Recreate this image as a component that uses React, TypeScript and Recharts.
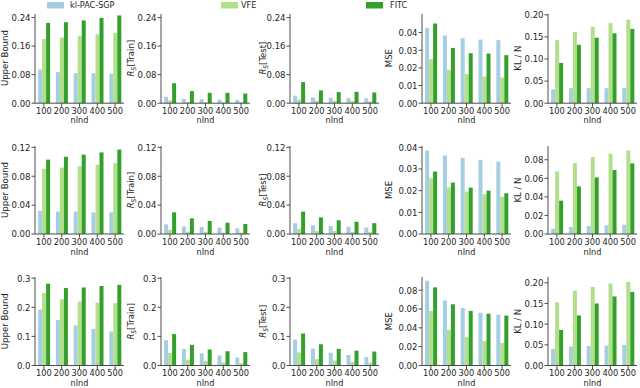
import React from 'react';
import { BarChart, Bar, XAxis, YAxis } from 'recharts';

// ---------- data ----------
const nInd = ['100', '200', '300', '400', '500'];
const seriesNames = ['kl-PAC-SGP', 'VFE', 'FITC'];

// Row 1
const ub1Pac = [0.094, 0.087, 0.084, 0.084, 0.083];
const ub1Vfe = [0.18, 0.184, 0.188, 0.193, 0.197];
const ub1Fitc = [0.225, 0.227, 0.232, 0.239, 0.246];
const rsTrain1Pac = [0.018, 0.012, 0.011, 0.01, 0.009];
const rsTrain1Vfe = [0.008, 0.003, 0.002, 0.002, 0.002];
const rsTrain1Fitc = [0.056, 0.034, 0.029, 0.029, 0.027];
const rsTest1Pac = [0.021, 0.016, 0.015, 0.014, 0.014];
const rsTest1Vfe = [0.01, 0.007, 0.007, 0.006, 0.005];
const rsTest1Fitc = [0.059, 0.036, 0.031, 0.032, 0.03];
const mse1Pac = [0.0425, 0.0383, 0.0368, 0.036, 0.0357];
const mse1Vfe = [0.0249, 0.0189, 0.0164, 0.0151, 0.0145];
const mse1Fitc = [0.0451, 0.0313, 0.0283, 0.0281, 0.0272];
const kl1Pac = [0.031, 0.034, 0.034, 0.034, 0.034];
const kl1Vfe = [0.143, 0.161, 0.173, 0.181, 0.189];
const kl1Fitc = [0.091, 0.132, 0.148, 0.158, 0.168];

// Row 2
const ub2Pac = [0.032, 0.031, 0.031, 0.03, 0.03];
const ub2Vfe = [0.0905, 0.092, 0.094, 0.096, 0.098];
const ub2Fitc = [0.103, 0.107, 0.11, 0.113, 0.117];
const rsTrain2Pac = [0.0134, 0.0106, 0.0097, 0.0088, 0.0078];
const rsTrain2Vfe = [0.006, 0.003, 0.003, 0.002, 0.002];
const rsTrain2Fitc = [0.03, 0.0217, 0.018, 0.0157, 0.0138];
const rsTest2Pac = [0.015, 0.012, 0.011, 0.01, 0.009];
const rsTest2Vfe = [0.007, 0.004, 0.004, 0.003, 0.003];
const rsTest2Fitc = [0.031, 0.023, 0.019, 0.017, 0.015];
const mse2Pac = [0.0385, 0.0362, 0.0351, 0.0342, 0.0334];
const mse2Vfe = [0.0257, 0.0215, 0.0195, 0.0183, 0.0172];
const mse2Fitc = [0.0288, 0.0237, 0.0214, 0.02, 0.0188];
const kl2Pac = [0.0057, 0.0075, 0.0086, 0.0093, 0.01];
const kl2Vfe = [0.0675, 0.0764, 0.0829, 0.0865, 0.09];
const kl2Fitc = [0.0359, 0.0513, 0.061, 0.0689, 0.0761];

// Row 3
const ub3Pac = [0.192, 0.156, 0.138, 0.126, 0.117];
const ub3Vfe = [0.249, 0.228, 0.22, 0.216, 0.214];
const ub3Fitc = [0.281, 0.266, 0.268, 0.273, 0.277];
const rsTrain3Pac = [0.087, 0.057, 0.042, 0.034, 0.027];
const rsTrain3Vfe = [0.043, 0.02, 0.015, 0.011, 0.008];
const rsTrain3Fitc = [0.108, 0.071, 0.055, 0.049, 0.046];
const rsTest3Pac = [0.089, 0.058, 0.044, 0.036, 0.029];
const rsTest3Vfe = [0.045, 0.022, 0.017, 0.013, 0.01];
const rsTest3Fitc = [0.11, 0.073, 0.057, 0.051, 0.048];
const mse3Pac = [0.09, 0.069, 0.061, 0.056, 0.054];
const mse3Vfe = [0.058, 0.038, 0.03, 0.026, 0.024];
const mse3Fitc = [0.083, 0.065, 0.058, 0.055, 0.053];
const kl3Pac = [0.04, 0.046, 0.047, 0.048, 0.05];
const kl3Vfe = [0.153, 0.181, 0.19, 0.198, 0.202];
const kl3Fitc = [0.086, 0.121, 0.15, 0.167, 0.178];

// tick labels
const ticksUb1 = [0, 0.08, 0.16, 0.24];
const ticksUb2 = [0, 0.04, 0.08, 0.12];
const ticksUb3 = [0, 0.1, 0.2, 0.3];
const ticksMse12 = [0, 0.01, 0.02, 0.03, 0.04];
const ticksMse3 = [0, 0.02, 0.04, 0.06, 0.08];
const ticksKl13 = [0, 0.05, 0.1, 0.15, 0.2];
const ticksKl2 = [0, 0.02, 0.04, 0.06, 0.08];

// ---------- style / layout ----------
const C_PAC = '#a6cee3';
const C_VFE = '#b2df8a';
const C_FITC = '#33a02c';
const TXT = '#262626';
const AX = '#3a3a3a';
const FONT = '"DejaVu Sans Condensed", "Liberation Sans", sans-serif';

const ROW_TOP = [13.5, 146, 277];
const ROW_BOTTOM = [102.7, 234, 365.5];
const XLABEL_BASE = [123, 254.5, 386];
const AXIS_X = [35, 161, 290, 422, 548];
const LABEL_X = [8, 134, 266, 392, 521];
const PLOT_W = 89;

type PanelProps = {
  row: number;
  col: number;
  pac: number[];
  vfe: number[];
  fitc: number[];
  yMax: number;
  ticks: number[];
  digits: number;
};

function Panel({ row, col, pac, vfe, fitc, yMax, ticks, digits }: PanelProps) {
  const top = ROW_TOP[row];
  const bottom = ROW_BOTTOM[row];
  const ML = 44;
  const MT = 9;
  const MR = 3;
  const XH = 22;
  const plotH = bottom - top;
  const data = nInd.map((n, i) => ({ n, pac: pac[i], vfe: vfe[i], fitc: fitc[i] }));
  const yTickStyle = { fontSize: 9.5, fill: TXT, fontFamily: FONT };
  const xTickStyle = { fontSize: 9.2, fill: TXT, fontFamily: FONT };
  return (
    <div style={{ position: 'absolute', left: AXIS_X[col] - ML, top: top - MT }}>
      <BarChart
        width={ML + PLOT_W + MR}
        height={MT + plotH + XH}
        data={data}
        margin={{ top: MT, right: MR, left: 0, bottom: 0 }}
        barCategoryGap="17.5%"
        barGap={0}
      >
        <XAxis
          dataKey="n"
          height={XH}
          interval={0}
          tickSize={3.5}
          tickMargin={0.5}
          tick={xTickStyle}
          axisLine={{ stroke: AX, strokeWidth: 0.9 }}
          tickLine={{ stroke: AX, strokeWidth: 0.9 }}
        />
        <YAxis
          width={ML}
          type="number"
          domain={[0, yMax]}
          ticks={ticks}
          interval={0}
          tickFormatter={(v: number) => v.toFixed(digits)}
          tickSize={3.5}
          tickMargin={1}
          tick={yTickStyle}
          axisLine={{ stroke: AX, strokeWidth: 0.9 }}
          tickLine={{ stroke: AX, strokeWidth: 0.9 }}
        />
        <Bar dataKey="pac" name={seriesNames[0]} fill={C_PAC} isAnimationActive={false} />
        <Bar dataKey="vfe" name={seriesNames[1]} fill={C_VFE} isAnimationActive={false} />
        <Bar dataKey="fitc" name={seriesNames[2]} fill={C_FITC} isAnimationActive={false} />
      </BarChart>
    </div>
  );
}

function YTitle({ col, row, kind }: { col: number; row: number; kind: string }) {
  const x = LABEL_X[col];
  const y = (ROW_TOP[row] + ROW_BOTTOM[row]) / 2;
  const common = {
    x,
    y,
    transform: `rotate(-90, ${x}, ${y})`,
    textAnchor: 'middle' as const,
    fontSize: 9.5,
    fill: TXT,
    fontFamily: FONT,
  };
  if (kind === 'train' || kind === 'test') {
    return (
      <text {...common}>
        <tspan fontStyle="italic">R</tspan>
        <tspan fontStyle="italic" fontSize={6.5} dy={2}>S</tspan>
        <tspan dy={-2}>{kind === 'train' ? '[Train]' : '[Test]'}</tspan>
      </text>
    );
  }
  return <text {...common}>{kind}</text>;
}

export default function App() {
  const rows = [0, 1, 2];
  return (
    <div
      style={{
        position: 'absolute',
        left: 0,
        top: 0,
        width: 640,
        height: 388,
        background: '#fff',
        overflow: 'hidden',
        fontFamily: FONT,
      }}
    >
      {/* Row 1 */}
      <Panel row={0} col={0} pac={ub1Pac} vfe={ub1Vfe} fitc={ub1Fitc} yMax={0.25} ticks={ticksUb1} digits={2} />
      <Panel row={0} col={1} pac={rsTrain1Pac} vfe={rsTrain1Vfe} fitc={rsTrain1Fitc} yMax={0.25} ticks={ticksUb1} digits={2} />
      <Panel row={0} col={2} pac={rsTest1Pac} vfe={rsTest1Vfe} fitc={rsTest1Fitc} yMax={0.25} ticks={ticksUb1} digits={2} />
      <Panel row={0} col={3} pac={mse1Pac} vfe={mse1Vfe} fitc={mse1Fitc} yMax={0.0505} ticks={ticksMse12} digits={2} />
      <Panel row={0} col={4} pac={kl1Pac} vfe={kl1Vfe} fitc={kl1Fitc} yMax={0.2018} ticks={ticksKl13} digits={2} />
      {/* Row 2 */}
      <Panel row={1} col={0} pac={ub2Pac} vfe={ub2Vfe} fitc={ub2Fitc} yMax={0.1219} ticks={ticksUb2} digits={2} />
      <Panel row={1} col={1} pac={rsTrain2Pac} vfe={rsTrain2Vfe} fitc={rsTrain2Fitc} yMax={0.1219} ticks={ticksUb2} digits={2} />
      <Panel row={1} col={2} pac={rsTest2Pac} vfe={rsTest2Vfe} fitc={rsTest2Fitc} yMax={0.1219} ticks={ticksUb2} digits={2} />
      <Panel row={1} col={3} pac={mse2Pac} vfe={mse2Vfe} fitc={mse2Fitc} yMax={0.0406} ticks={ticksMse12} digits={2} />
      <Panel row={1} col={4} pac={kl2Pac} vfe={kl2Vfe} fitc={kl2Fitc} yMax={0.0948} ticks={ticksKl2} digits={2} />
      {/* Row 3 */}
      <Panel row={2} col={0} pac={ub3Pac} vfe={ub3Vfe} fitc={ub3Fitc} yMax={0.304} ticks={ticksUb3} digits={1} />
      <Panel row={2} col={1} pac={rsTrain3Pac} vfe={rsTrain3Vfe} fitc={rsTrain3Fitc} yMax={0.304} ticks={ticksUb3} digits={1} />
      <Panel row={2} col={2} pac={rsTest3Pac} vfe={rsTest3Vfe} fitc={rsTest3Fitc} yMax={0.304} ticks={ticksUb3} digits={1} />
      <Panel row={2} col={3} pac={mse3Pac} vfe={mse3Vfe} fitc={mse3Fitc} yMax={0.094} ticks={ticksMse3} digits={2} />
      <Panel row={2} col={4} pac={kl3Pac} vfe={kl3Vfe} fitc={kl3Fitc} yMax={0.214} ticks={ticksKl13} digits={2} />

      <svg
        width={640}
        height={388}
        style={{ position: 'absolute', left: 0, top: 0, pointerEvents: 'none' }}
      >
        {/* legend */}
        <rect x={47} y={2} width={17} height={6.5} fill={C_PAC} />
        <text x={70} y={8.3} fontSize={9} fill={TXT} fontFamily={FONT}>{seriesNames[0]}</text>
        <rect x={221} y={2} width={17} height={6.5} fill={C_VFE} />
        <text x={241} y={8.3} fontSize={9} fill={TXT} fontFamily={FONT}>{seriesNames[1]}</text>
        <rect x={366} y={2} width={17} height={6.5} fill={C_FITC} />
        <text x={390} y={8.3} fontSize={9} fill={TXT} fontFamily={FONT}>{seriesNames[2]}</text>

        {rows.map((r) => (
          <g key={r}>
            <YTitle row={r} col={0} kind="Upper Bound" />
            <YTitle row={r} col={1} kind="train" />
            <YTitle row={r} col={2} kind="test" />
            <YTitle row={r} col={3} kind="MSE" />
            <YTitle row={r} col={4} kind="KL / N" />
            {AXIS_X.map((ax, c) => (
              <text
                key={c}
                x={ax + PLOT_W / 2}
                y={XLABEL_BASE[r]}
                textAnchor="middle"
                fontSize={9}
                fill={TXT}
                fontFamily={FONT}
              >
                nInd
              </text>
            ))}
          </g>
        ))}
      </svg>
    </div>
  );
}
